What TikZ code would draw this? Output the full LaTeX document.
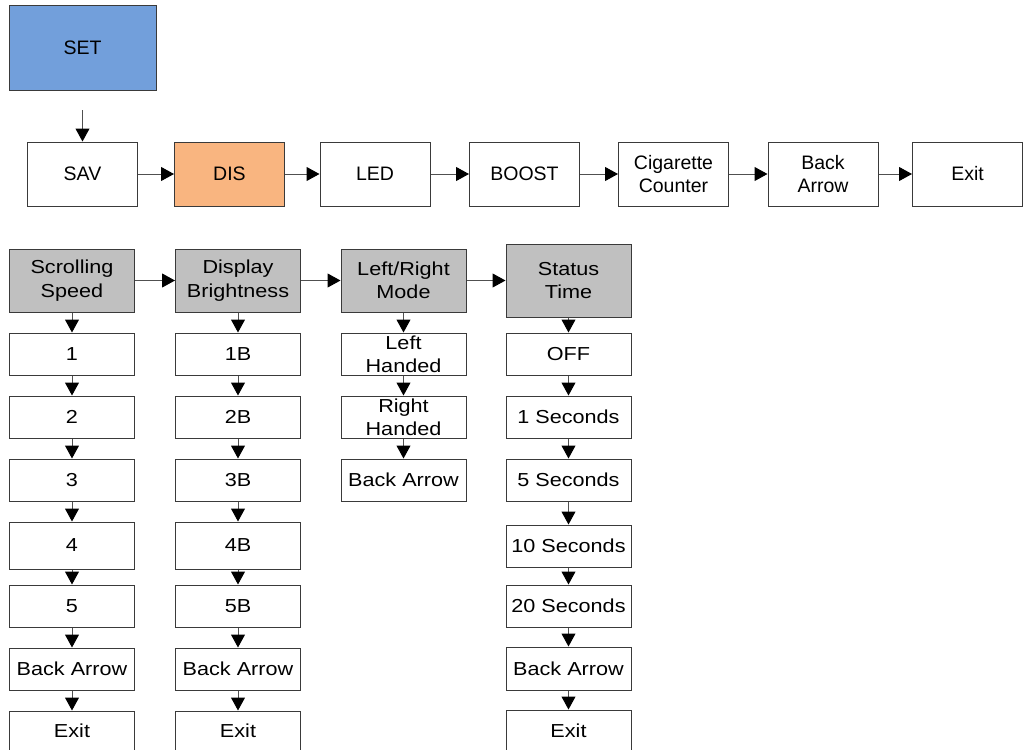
\documentclass[tikz,border=0pt]{standalone}
\usepackage{fontspec}
\setmainfont{Liberation Sans}
\newfontfamily\colfont{Liberation Sans}[FakeStretch=1.15]
\usetikzlibrary{arrows.meta}
\definecolor{setblue}{HTML}{729FDB}
\definecolor{disorange}{HTML}{F9B580}
\definecolor{hdrgray}{HTML}{C0C0C0}
\definecolor{edge}{HTML}{3A3A3A}
\definecolor{wire}{HTML}{505050}
\tikzset{
  box/.style={draw=edge, line width=1pt, fill=white, inner sep=0pt, align=center,
    font=\fontsize{19.5}{23.3}\selectfont},
  cbox/.style={box, minimum width=125pt, font=\colfont\fontsize{18.8}{23.3}\selectfont},
  rbox/.style={box, minimum width=110pt, minimum height=64pt},
  hdr/.style={cbox, fill=hdrgray},
  conn/.style={draw=wire, line width=1pt, -{Triangle[length=13pt,width=14pt,color=black]}}
}
\begin{document}
\begin{tikzpicture}[x=1pt,y=-1pt]
\useasboundingbox (0,0) rectangle (1029,750);
% top
\node[box, fill=setblue, minimum width=147pt, minimum height=85pt] (set) at (82.5,47.5) {SET};
\node[rbox] (sav) at (82.5,174) {SAV};
\node[rbox, fill=disorange] (dis) at (229.5,174) {DIS};
\node[rbox] (led) at (375,174) {LED};
\node[rbox] (boost) at (524.5,174) {BOOST};
\node[rbox] (cig) at (673.5,174) {Cigarette\\Counter};
\node[rbox] (back) at (823,174) {Back\\Arrow};
\node[rbox] (exit) at (967.5,174) {Exit};
\coordinate (start) at (82.5,110);
\draw[conn] (start) -- (sav.north);
\draw[conn] (sav) -- (dis);
\draw[conn] (dis) -- (led);
\draw[conn] (led) -- (boost);
\draw[conn] (boost) -- (cig);
\draw[conn] (cig) -- (back);
\draw[conn] (back) -- (exit);
% headers
\node[hdr, minimum height=63pt] (h1) at (72,280.5) {Scrolling\\Speed};
\node[hdr, minimum height=63pt] (h2) at (238,280.5) {Display\\Brightness};
\node[hdr, minimum height=63pt] (h3) at (403.5,280.5) {Left/Right\\Mode};
\node[hdr, minimum height=73pt] (h4) at (568.5,280.5) {Status\\Time};
\draw[conn] (h1) -- (h2);
\draw[conn] (h2) -- (h3);
\draw[conn] (h3) -- (h4);
% column 1
\node[cbox, minimum height=42pt] (a1) at (72,354) {1};
\node[cbox, minimum height=42pt] (a2) at (72,417) {2};
\node[cbox, minimum height=42pt] (a3) at (72,480) {3};
\node[cbox, minimum height=47pt] (a4) at (72,545.5) {4};
\node[cbox, minimum height=42pt] (a5) at (72,606) {5};
\node[cbox, minimum height=42pt] (a6) at (72,669) {Back Arrow};
\node[cbox, minimum height=49pt, text depth=0pt] (a7) at (72,735.5) {};
\node[font=\colfont\fontsize{18.8}{23.3}\selectfont] (a7t) at (72,731) {Exit};
% column 2
\node[cbox, minimum height=42pt] (b1) at (238,354) {1B};
\node[cbox, minimum height=42pt] (b2) at (238,417) {2B};
\node[cbox, minimum height=42pt] (b3) at (238,480) {3B};
\node[cbox, minimum height=47pt] (b4) at (238,545.5) {4B};
\node[cbox, minimum height=42pt] (b5) at (238,606) {5B};
\node[cbox, minimum height=42pt] (b6) at (238,669) {Back Arrow};
\node[cbox, minimum height=49pt] (b7) at (238,735.5) {};
\node[font=\colfont\fontsize{18.8}{23.3}\selectfont] (b7t) at (238,731) {Exit};
% column 3
\node[cbox, minimum height=42pt] (c1) at (403.5,354) {Left\\Handed};
\node[cbox, minimum height=42pt] (c2) at (403.5,417) {Right\\Handed};
\node[cbox, minimum height=42pt] (c3) at (403.5,480) {Back Arrow};
% column 4
\node[cbox, minimum height=42pt] (d1) at (568.5,354) {OFF};
\node[cbox, minimum height=42pt] (d2) at (568.5,417) {1 Seconds};
\node[cbox, minimum height=42pt] (d3) at (568.5,480) {5 Seconds};
\node[cbox, minimum height=42pt] (d4) at (568.5,546) {10 Seconds};
\node[cbox, minimum height=42pt] (d5) at (568.5,606) {20 Seconds};
\node[cbox, minimum height=43pt] (d6) at (568.5,668.5) {Back Arrow};
\node[cbox, minimum height=50pt] (d7) at (568.5,735) {};
\node[font=\colfont\fontsize{18.8}{23.3}\selectfont] (d7t) at (568.5,731) {Exit};
% column connectors
\foreach \p/\q in {h1/a1,a1/a2,a2/a3,a3/a4,a4/a5,a5/a6,a6/a7,
                   h2/b1,b1/b2,b2/b3,b3/b4,b4/b5,b5/b6,b6/b7,
                   h3/c1,c1/c2,c2/c3,
                   h4/d1,d1/d2,d2/d3,d3/d4,d4/d5,d5/d6,d6/d7}
  \draw[conn] (\p.south) -- (\q.north);
\end{tikzpicture}
\end{document}
